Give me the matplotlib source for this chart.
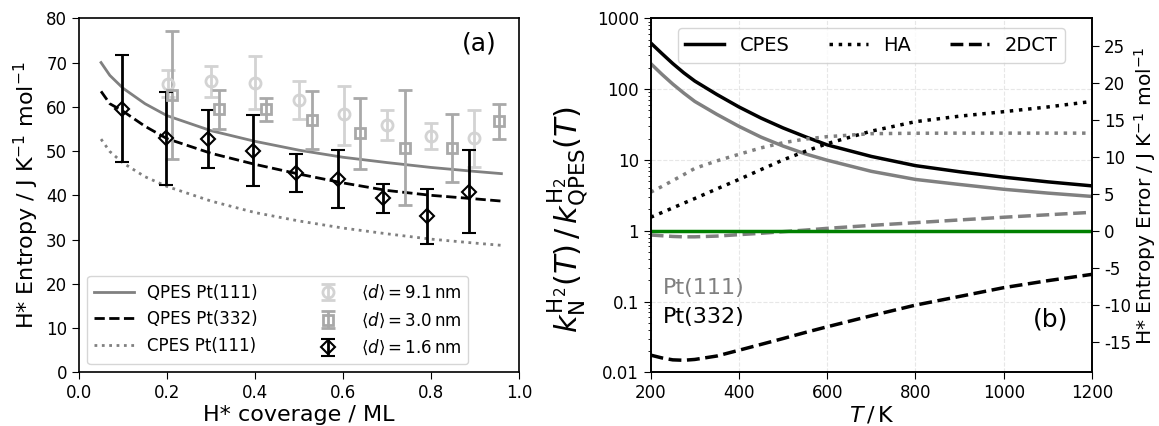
import matplotlib
matplotlib.use("Agg")
import matplotlib.pyplot as plt
from matplotlib.lines import Line2D

# ---- panel (a): H* entropy vs coverage ----
coverage_fit = [0.05, 0.07, 0.1, 0.15, 0.2, 0.3, 0.4, 0.5, 0.6, 0.7, 0.8, 0.9, 0.96]
qpes_111 = [70.0, 67.1, 64.2, 60.7, 58.0, 54.6, 52.2, 50.2, 48.6, 47.4, 46.3, 45.4, 44.9]
qpes_332 = [63.5, 60.7, 59.0, 55.6, 52.8, 49.5, 47.0, 44.8, 42.8, 41.1, 40.0, 39.2, 38.7]
cpes_111 = [52.7, 49.9, 47.3, 44.2, 42.0, 38.7, 36.1, 34.2, 32.6, 31.3, 30.1, 29.2, 28.7]

x_91 = [0.203, 0.300, 0.400, 0.500, 0.602, 0.700, 0.800, 0.898]
y_91 = [65.2, 65.8, 65.4, 61.6, 58.3, 55.8, 53.5, 52.9]
lo_91 = [62.2, 62.2, 59.4, 57.2, 51.4, 52.4, 50.5, 46.4]
hi_91 = [68.3, 69.2, 71.4, 65.8, 64.8, 59.2, 56.4, 59.2]

x_30 = [0.211, 0.319, 0.425, 0.530, 0.639, 0.741, 0.847, 0.955]
y_30 = [62.7, 59.5, 59.5, 57.0, 54.0, 50.8, 50.6, 56.8]
lo_30 = [48.3, 55.1, 56.7, 50.5, 45.9, 37.8, 42.9, 52.7]
hi_30 = [77.1, 63.7, 62.0, 63.6, 62.0, 63.9, 58.4, 60.7]

x_16 = [0.097, 0.198, 0.294, 0.395, 0.493, 0.589, 0.690, 0.790, 0.887]
y_16 = [59.5, 53.0, 52.7, 50.1, 45.0, 43.8, 39.3, 35.3, 40.8]
lo_16 = [47.5, 42.4, 46.1, 42.1, 40.8, 37.2, 35.9, 29.0, 31.5]
hi_16 = [71.8, 63.3, 59.2, 58.1, 49.3, 50.3, 42.5, 41.5, 50.3]

# ---- panel (b): rate ratio vs temperature ----
temps = [200, 225, 250, 275, 300, 350, 400, 450, 500, 550, 600, 700, 800, 900, 1000, 1100, 1200]
cpes_332_k = [450, 320, 230, 170, 130, 84, 56, 39, 28.3, 21.3, 16.3, 11.2, 8.3, 6.8, 5.7, 4.9, 4.3]
cpes_111_k = [230, 163, 118, 88, 67, 44, 29.8, 21.0, 15.7, 12.2, 9.9, 6.9, 5.3, 4.5, 3.85, 3.4, 3.05]
ha_332_k = [1.55, 1.8, 2.1, 2.45, 2.85, 3.9, 5.3, 7.3, 10.0, 13.2, 17.0, 25.5, 34.7, 41.5, 48.0, 56.0, 67.0]
ha_111_k = [3.5, 4.2, 5.1, 6.2, 7.6, 9.7, 12.0, 14.8, 17.5, 19.7, 21.3, 23.5, 23.8, 23.9, 23.9, 23.9, 23.9]
dct_332_k = [0.0175, 0.0160, 0.0150, 0.0148, 0.0152, 0.0170, 0.0205, 0.0248, 0.030, 0.0365, 0.044,
             0.063, 0.089, 0.118, 0.157, 0.197, 0.242]
dct_111_k = [0.87, 0.85, 0.83, 0.82, 0.82, 0.84, 0.88, 0.92, 0.97, 1.02, 1.08, 1.19, 1.30, 1.42, 1.55,
             1.68, 1.82]

entropy_ticks = [-15, -10, -5, 0, 5, 10, 15, 20, 25]
half_decade = 8.314 * 2.302585 / 2

plt.rcParams["axes.linewidth"] = 1.2
plt.rcParams["xtick.labelsize"] = 12
plt.rcParams["ytick.labelsize"] = 12
plt.rcParams["xtick.major.size"] = 5
plt.rcParams["ytick.major.size"] = 5

fig = plt.figure(figsize=(11.59, 4.26), dpi=100)
ax1 = fig.add_axes([0.0682, 0.126, 0.3796, 0.831])
ax2 = fig.add_axes([0.5614, 0.126, 0.3808, 0.831])

ax1.plot(coverage_fit, qpes_111, color="gray", lw=2, label="QPES Pt(111)")
ax1.plot(coverage_fit, qpes_332, color="black", lw=2, ls="--", label="QPES Pt(332)")
ax1.plot(coverage_fit, cpes_111, color="gray", lw=2, ls=":", label="CPES Pt(111)")

ax1.errorbar(x_91, y_91,
             yerr=[[y - l for y, l in zip(y_91, lo_91)], [h - y for y, h in zip(y_91, hi_91)]],
             fmt="o", color="lightgray", mfc="none", ms=8, mew=2, capsize=5, capthick=2,
             elinewidth=2, label=r"$\langle d\rangle = 9.1\,\mathrm{nm}$")
ax1.errorbar(x_30, y_30,
             yerr=[[y - l for y, l in zip(y_30, lo_30)], [h - y for y, h in zip(y_30, hi_30)]],
             fmt="s", color="darkgray", mfc="none", ms=7, mew=2, capsize=5, capthick=2,
             elinewidth=2, label=r"$\langle d\rangle = 3.0\,\mathrm{nm}$")
ax1.errorbar(x_16, y_16,
             yerr=[[y - l for y, l in zip(y_16, lo_16)], [h - y for y, h in zip(y_16, hi_16)]],
             fmt="D", color="black", mfc="none", ms=7.5, mew=1.5, capsize=5, capthick=2,
             elinewidth=2, label=r"$\langle d\rangle = 1.6\,\mathrm{nm}$")

ax1.set_xlim(0, 1)
ax1.set_ylim(0, 80)
ax1.set_xticks([0.0, 0.2, 0.4, 0.6, 0.8, 1.0])
ax1.set_yticks(range(0, 81, 10))
ax1.set_xlabel("H* coverage / ML", fontsize=16, labelpad=2)
ax1.set_ylabel(r"H* Entropy / J K$^{-1}$ mol$^{-1}$", fontsize=16)
ax1.text(0.95, 0.93, "(a)", transform=ax1.transAxes, ha="right", va="center", fontsize=18)
ax1.legend(loc="lower left", ncol=2, fontsize=12, columnspacing=3.0, handlelength=2.4,
           borderaxespad=0.5)

ax2.plot(temps, cpes_332_k, color="black", lw=2.5)
ax2.plot(temps, cpes_111_k, color="gray", lw=2.5)
ax2.plot(temps, ha_332_k, color="black", lw=2.5, ls=":")
ax2.plot(temps, ha_111_k, color="gray", lw=2.5, ls=":")
ax2.plot(temps, dct_332_k, color="black", lw=2.5, ls="--")
ax2.plot(temps, dct_111_k, color="gray", lw=2.5, ls="--")
ax2.axhline(1, color="green", lw=2.5)

ax2.set_yscale("log")
ax2.set_xlim(200, 1200)
ax2.set_ylim(0.01, 1000)
ax2.set_yticks([0.01, 0.1, 1, 10, 100, 1000])
ax2.set_yticklabels(["0.01", "0.1", "1", "10", "100", "1000"])
ax2.set_xticks([200, 400, 600, 800, 1000, 1200])
ax2.grid(True, ls="--", alpha=0.3)
ax2.set_xlabel(r"$T\,/\,$K", fontsize=16, labelpad=2)
ax2.set_ylabel(r"$k_\mathrm{N}^{\mathrm{H_2}}(T)\,/\,k_\mathrm{QPES}^{\mathrm{H_2}}(T)$", fontsize=22)
ax2.yaxis.set_label_coords(-0.135, 0.43)

ax2.text(0.028, 0.238, "Pt(111)", color="gray", transform=ax2.transAxes, fontsize=16, va="center")
ax2.text(0.028, 0.156, "Pt(332)", color="black", transform=ax2.transAxes, fontsize=16, va="center")
ax2.text(0.946, 0.148, "(b)", transform=ax2.transAxes, ha="right", va="center", fontsize=18)

handles = [Line2D([], [], color="black", lw=2.5),
           Line2D([], [], color="black", lw=2.5, ls=":"),
           Line2D([], [], color="black", lw=2.5, ls="--")]
ax2.legend(handles, ["CPES", "HA", "2DCT"], loc="upper center", ncol=3, fontsize=14,
           columnspacing=2.0, bbox_to_anchor=(0.5, 1.0))

ax3 = ax2.twinx()
ax3.set_ylim(-2 * half_decade, 3 * half_decade)
ax3.set_yticks(entropy_ticks)
ax3.set_yticklabels([str(t) for t in entropy_ticks])
ax3.set_ylabel(r"H* Entropy Error / J K$^{-1}$ mol$^{-1}$", fontsize=14.5, labelpad=1)

fig.savefig("out.png", dpi=100)
